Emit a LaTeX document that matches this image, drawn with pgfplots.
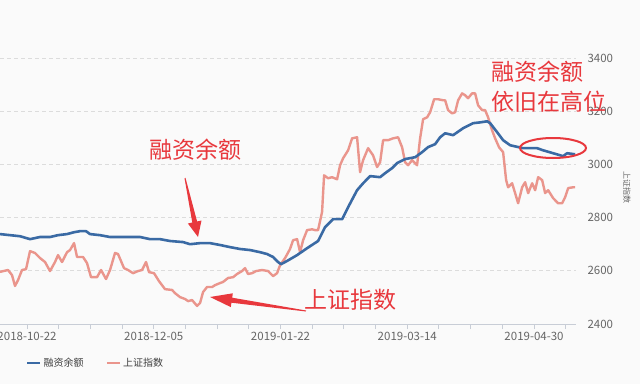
\documentclass[border=0pt]{standalone}
\usepackage{fontspec}
\setmainfont{Noto Sans CJK SC}
\usepackage{pgfplots}
\pgfplotsset{compat=1.18}
\definecolor{bluel}{HTML}{3A6AA4}
\definecolor{salmon}{HTML}{EA958C}
\definecolor{annred}{HTML}{E8383D}
\definecolor{gridc}{HTML}{DCDCDC}
\definecolor{axisc}{HTML}{C8CDD6}
\definecolor{bg}{HTML}{FAFAFA}
\definecolor{tickc}{HTML}{666666}
\begin{document}
\begin{tikzpicture}
\path[use as bounding box, fill=bg] (0pt,0pt) rectangle (640pt,384pt);
\begin{axis}[
  at={(0pt,60pt)}, anchor=south west,
  scale only axis, width=576pt, height=266pt,
  xmin=-6.82, xmax=138.6, ymin=2400, ymax=3400,
  axis x line*=bottom, axis y line*=right,
  x axis line style={axisc, line width=1pt, -},
  y axis line style={draw=none},
  xtick={0,8,...,136},
  xticklabels={2018-10-22,,,,2018-12-05,,,,2019-01-22,,,,2019-03-14,,,,2019-04-30,},
  xtick align=outside, major tick length=5pt,
  x tick style={axisc, line width=1pt},
  ytick={2400,2600,...,3400}, y tick style={draw=none},
  ymajorgrids, grid style={gridc, dash pattern=on 4pt off 3pt, line width=0.8pt},
  /pgf/number format/assume math mode=true,
  /pgf/number format/1000 sep={},
  ticklabel style={font=\fontsize{11.5}{13}\selectfont, text=tickc},
  yticklabel style={xshift=8pt},
  legend style={at={(0.045,-0.147)}, anchor=west, draw=none, fill=none,
    inner sep=0pt, legend columns=2, font=\fontsize{10}{12}\selectfont, text=tickc!60!black,
    /tikz/every even column/.append style={column sep=20pt}},
  legend image code/.code={\draw[#1, line width=2.5pt] (0pt,0pt) -- (13pt,0pt);},
  clip=false,
]
\addplot[salmon, line width=2.4pt, line join=round, forget plot] coordinates {
(-6.82,2596) (-4.80,2603) (-3.79,2584) (-3.03,2543) (-2.27,2565) (-1.26,2603) (-0.25,2606)
(0.76,2674) (2.02,2667) (3.28,2648) (4.55,2633) (5.81,2599) (7.07,2633) (7.83,2659) (8.84,2633)
(10.10,2670) (10.86,2678) (11.87,2704) (12.63,2652) (14.14,2652) (15.15,2629) (16.16,2576)
(17.68,2576) (18.69,2603) (19.95,2569) (20.96,2603) (22.22,2667) (22.98,2663) (24.49,2610)
(25.51,2603) (26.77,2591) (28.03,2599) (29.04,2603) (30.05,2633) (30.81,2595) (32.07,2591)
(33.33,2561) (34.85,2531) (36.62,2528) (37.37,2516) (38.64,2501) (39.90,2494) (40.66,2486)
(41.67,2490) (42.93,2468) (43.69,2479) (44.44,2520) (45.45,2539) (46.72,2539) (47.47,2546)
(48.74,2554) (49.49,2558) (50.76,2573) (52.02,2576) (53.03,2588) (54.29,2599) (55.05,2610)
(55.81,2588) (56.82,2591) (57.83,2599) (59.34,2603) (60.86,2599) (62.12,2580) (63.13,2591)
(63.89,2621) (65.15,2648) (66.41,2682) (67.17,2715) (68.18,2719) (68.94,2670) (69.70,2715)
(70.71,2753) (71.97,2756) (72.73,2753) (73.48,2753) (74.49,2821) (75.00,2959) (76.01,2948)
(77.02,2952) (78.28,2944) (79.04,2997) (79.80,3023) (81.06,3053) (82.07,3098) (83.33,3102)
(84.09,2971) (84.85,3016) (86.11,3061) (87.37,3034) (88.38,2990) (89.14,3008) (89.90,3091)
(91.16,3091) (92.42,3098) (93.69,3102) (94.70,3064) (95.45,3008) (96.21,2997) (97.22,3016)
(98.48,2997) (99.24,3098) (100.00,3170) (101.01,3177) (101.77,3196) (102.78,3245) (103.79,3245)
(105.05,3241) (105.56,3241) (106.31,3204) (107.32,3192) (108.08,3196) (108.84,3241) (109.85,3267)
(110.61,3260) (111.36,3249) (112.37,3267) (113.13,3267) (113.89,3222) (114.90,3204) (115.66,3204)
(116.41,3177) (117.42,3128) (118.18,3098) (119.19,3064) (120.20,3046) (120.96,2941) (121.46,2914)
(122.47,2929) (123.23,2892) (123.99,2854) (125.00,2914) (125.76,2933) (126.52,2892) (127.53,2929)
(128.28,2903) (129.04,2952) (130.05,2941) (130.81,2892) (131.57,2903) (132.83,2873) (134.09,2854)
(135.10,2854) (135.86,2877) (136.62,2911) (137.88,2914) (138.38,2914)
};
\addplot[bluel, line width=2.6pt, line join=round] coordinates {
(-6.82,2738) (-4.29,2734) (-1.77,2730) (0.76,2719) (3.28,2727) (5.81,2727) (7.83,2734)
(10.10,2738) (11.87,2745) (13.38,2749) (14.90,2749) (15.91,2738) (18.43,2734) (20.96,2727)
(23.48,2727) (26.01,2727) (28.54,2727) (31.06,2719) (33.59,2719) (36.11,2712) (39.39,2708)
(41.16,2700) (43.69,2704) (46.21,2704) (48.74,2697) (51.26,2689) (53.79,2682) (56.31,2678)
(58.84,2670) (60.61,2663) (62.12,2652) (63.38,2633) (64.14,2625) (65.66,2637) (68.18,2659)
(70.71,2685) (73.48,2712) (75.25,2764) (77.27,2794) (79.55,2794) (81.06,2839) (83.33,2903)
(84.85,2929) (86.62,2956) (89.14,2952) (90.40,2967) (92.17,2986) (93.43,3005) (95.45,3020)
(97.98,3027) (99.75,3046) (101.26,3065) (103.03,3076) (104.29,3102) (105.56,3117) (107.58,3110)
(110.10,3136) (112.63,3155) (114.39,3158) (116.16,3162) (116.92,3155) (118.69,3121) (120.20,3091)
(121.97,3072) (125.25,3061) (128.79,3061) (130.30,3053) (132.83,3042) (135.35,3031) (136.36,3042)
(138.38,3038)
};
\addlegendentry{融资余额}
\addlegendimage{salmon}
\addlegendentry{上证指数}
\end{axis}
\begin{scope}[x=1pt, y=-1pt, shift={(0pt,384pt)}]
\node[text=annred, font=\fontsize{23}{28}\selectfont] at (195,150) {融资余额};
\node[text=annred, font=\fontsize{23}{28}\selectfont, anchor=west, inner sep=0pt] at (491,72) {融资余额};
\node[text=annred, font=\fontsize{23}{28}\selectfont, anchor=west, inner sep=0pt] at (491,102) {依旧在高位};
\node[text=annred, font=\fontsize{23}{28}\selectfont] at (350,300) {上证指数};
\draw[annred, line width=2pt] (553,148) ellipse [x radius=33pt, y radius=10pt];
\fill[annred] (184.5,178.1) -- (192.3,222.5) -- (187.9,223.5) -- (198,237) -- (201.5,220.5) -- (197.1,221.5) -- (185.5,177.9) -- cycle;
\fill[annred] (306.07,310.5) -- (232.2,297.7) -- (232.8,293.3) -- (210,297) -- (230.8,307.1) -- (231.4,302.7) -- (305.9,311.5) -- cycle;
\node[rotate=-90, text=tickc, font=\fontsize{8}{10}\selectfont] at (627,187) {上证指数};
\end{scope}
\end{tikzpicture}
\end{document}
